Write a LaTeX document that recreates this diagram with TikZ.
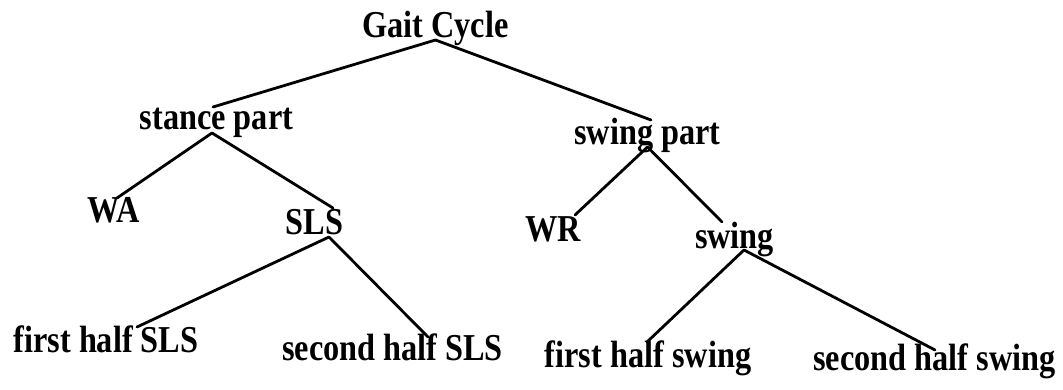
\documentclass[tikz,border=0pt]{standalone}
\usepackage{fontspec}
\setmainfont{Liberation Serif}[FakeStretch=0.85]
\begin{document}
\begin{tikzpicture}[x=1pt,y=-1pt,
  lbl/.style={inner sep=0pt,anchor=base,font=\fontsize{38}{42}\selectfont\bfseries},
  edge/.style={line width=2.8pt,line cap=round}]
\useasboundingbox (0,0) rectangle (1063,390);
\node[lbl] (gait)   at (435.5,38) {Gait Cycle};
\node[lbl] (stance) at (216.5,130) {stance part};
\node[lbl] (swingp) at (647.5,145) {swing part};
\node[lbl] (wa)     at (114,223) {WA};
\node[lbl] (sls)    at (314.5,235) {SLS};
\node[lbl] (wr)     at (553.5,242) {WR};
\node[lbl] (swing)  at (734.5,248) {swing};
\node[lbl] (fsls)   at (106,352) {first half SLS};
\node[lbl] (ssls)   at (392.5,360) {second half SLS};
\node[lbl] (fsw)    at (648,367) {first half swing};
\node[lbl] (ssw)    at (934.5,370) {second half swing};
\draw[edge] ([shift={(0,2)}]gait.base) -- ([shift={(-3.5,-23)}]stance.base);
\draw[edge] ([shift={(0,2)}]gait.base) -- ([shift={(3.5,-25)}]swingp.base);
\draw[edge] ([shift={(-4.5,3)}]stance.base) -- ([shift={(3,-25)}]wa.base);
\draw[edge] ([shift={(-4.5,3)}]stance.base) -- ([shift={(18.5,-27)}]sls.base);
\draw[edge] ([shift={(0,2)}]swingp.base) -- ([shift={(21.5,-27)}]wr.base);
\draw[edge] ([shift={(0,2)}]swingp.base) -- ([shift={(-12.5,-26)}]swing.base);
\draw[edge] ([shift={(14.5,2)}]sls.base) -- ([shift={(31,-25)}]fsls.base);
\draw[edge] ([shift={(14.5,2)}]sls.base) -- ([shift={(35.5,-23)}]ssls.base);
\draw[edge] ([shift={(9.5,2)}]swing.base) -- ([shift={(-1,-25)}]fsw.base);
\draw[edge] ([shift={(9.5,2)}]swing.base) -- ([shift={(0.5,-20)}]ssw.base);
\end{tikzpicture}
\end{document}
